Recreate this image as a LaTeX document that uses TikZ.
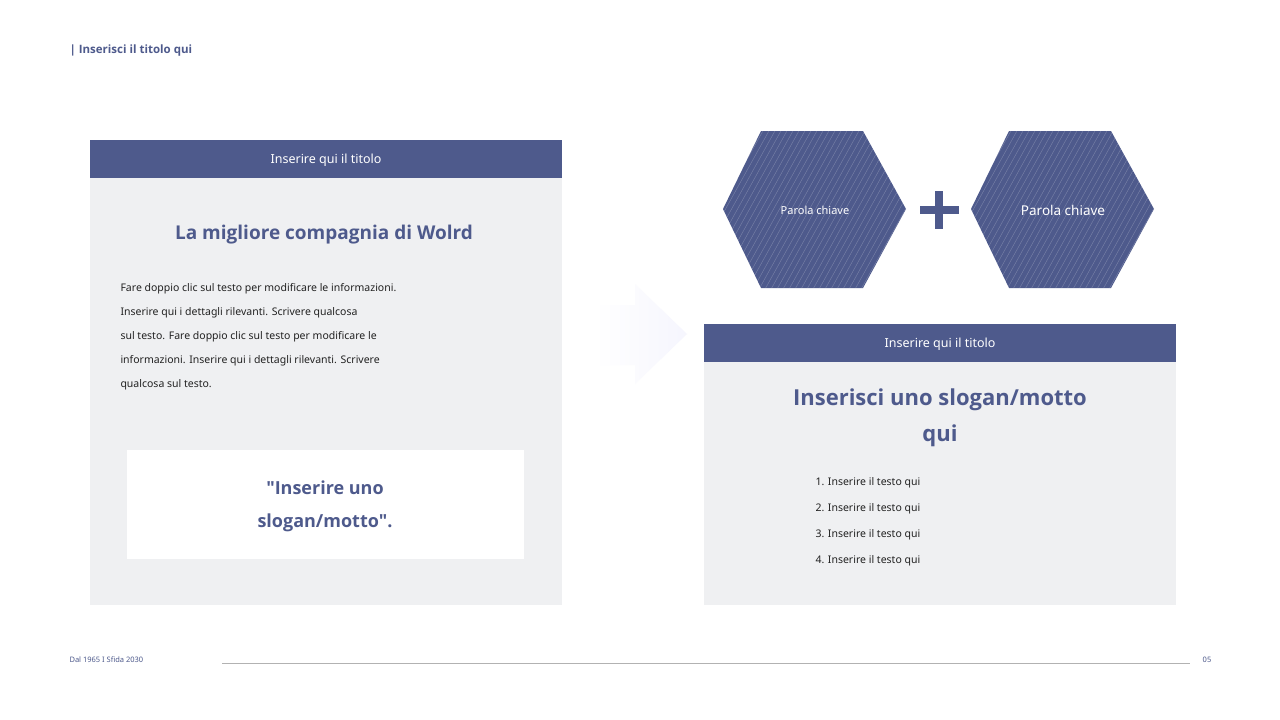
\documentclass[tikz,border=0pt]{standalone}
\usepackage{fontspec}
\setmainfont{Noto Sans}
\newfontfamily\headf{Open Sans}
\usetikzlibrary{shapes.geometric}
\definecolor{dblue}{HTML}{4E5A8C}
\definecolor{panel}{HTML}{EFF0F2}
\definecolor{txt}{HTML}{222222}
\tikzset{
  bar/.style={fill=dblue,draw=none},
  bartext/.style={text=white,font=\fontsize{12.5}{15}\selectfont},
  bigtitle/.style={text=dblue,font=\headf\bfseries\fontsize{19}{23}\selectfont,align=center},
  body/.style={text=txt,font=\fontsize{10.5}{24}\selectfont,align=left,anchor=north west},
}
\begin{document}
\begin{tikzpicture}[x=1pt,y=-1pt]
\useasboundingbox (0,0) rectangle (1280,720);
\fill[white] (0,0) rectangle (1280,720);
% header
\node[anchor=west,text=dblue,font=\headf\bfseries\fontsize{11.5}{14}\selectfont] (hdr) at (66,51) {| Inserisci il titolo qui};
% left panel
\fill[panel] (90,140) rectangle (562,605);
\fill[bar] (90,140) rectangle (562,178);
\node[bartext] (lt) at (326,160) {Inserire qui il titolo};
\node[bigtitle] (lh) at (324,235) {La migliore compagnia di Wolrd};
\node[body] (lb) at (117,280) {Fare doppio clic sul testo per modificare le informazioni.\\Inserire qui i dettagli rilevanti. Scrivere qualcosa\\sul testo. Fare doppio clic sul testo per modificare le\\informazioni. Inserire qui i dettagli rilevanti. Scrivere\\qualcosa sul testo.};
\fill[white] (127,450) rectangle (524,559);
\node[bigtitle,font=\headf\bfseries\fontsize{18}{33}\selectfont] (ls) at (325,506) {"Inserire uno\\slogan/motto".};
% arrow
\shade[left color=white,right color=panel!80!blue!15] (595,305) -- (635,305) -- (635,284) -- (687,334) -- (635,384) -- (635,365) -- (595,365) -- cycle;
% hexagons
\foreach \cx/\nm/\fs in {815/h1/11, 1063/h2/13.5}{
  \begin{scope}
  \clip (\cx-92,209) -- (\cx-54,131) -- (\cx+48,131) -- (\cx+91,209) -- (\cx+48,288) -- (\cx-54,288) -- cycle;
  \fill[dblue] (\cx-100,120) rectangle (\cx+100,300);
  \foreach \k in {-260,-254,...,120}{
    \draw[white,opacity=0.25,line width=0.4pt] (\cx+\k,300) -- (\cx+\k+100,120);
  }
  \end{scope}
  \node[text=white,font=\fontsize{\fs}{14}\selectfont] (\nm) at (\cx,210) {Parola chiave};
}
\fill[dblue] (920,206) rectangle (959,214);
\fill[dblue] (935,191) rectangle (943,229);
% right panel
\fill[panel] (704,324) rectangle (1176,605);
\fill[bar] (704,324) rectangle (1176,362);
\node[bartext] (rt) at (940,344) {Inserire qui il titolo};
\node[bigtitle,font=\headf\bfseries\fontsize{22}{36}\selectfont] (rh) at (940,418) {Inserisci uno slogan/motto\\qui};
\node[body,font=\fontsize{10.5}{26}\selectfont] (rl) at (812,474) {1. Inserire il testo qui\\2. Inserire il testo qui\\3. Inserire il testo qui\\4. Inserire il testo qui};
% footer
\node[anchor=west,text=dblue,font=\fontsize{7.5}{9}\selectfont] (ft) at (66,660) {Dal 1965 I Sfida 2030};
\node[text=dblue,font=\fontsize{7.5}{9}\selectfont] (pg) at (1207,660) {05};
\draw[gray!60,line width=0.8pt] (ft.east -| 222,0) ++(0,0) coordinate (fa);
\draw[gray!60,line width=0.8pt] (222,663) -- (1190,663);
\end{tikzpicture}
\end{document}
